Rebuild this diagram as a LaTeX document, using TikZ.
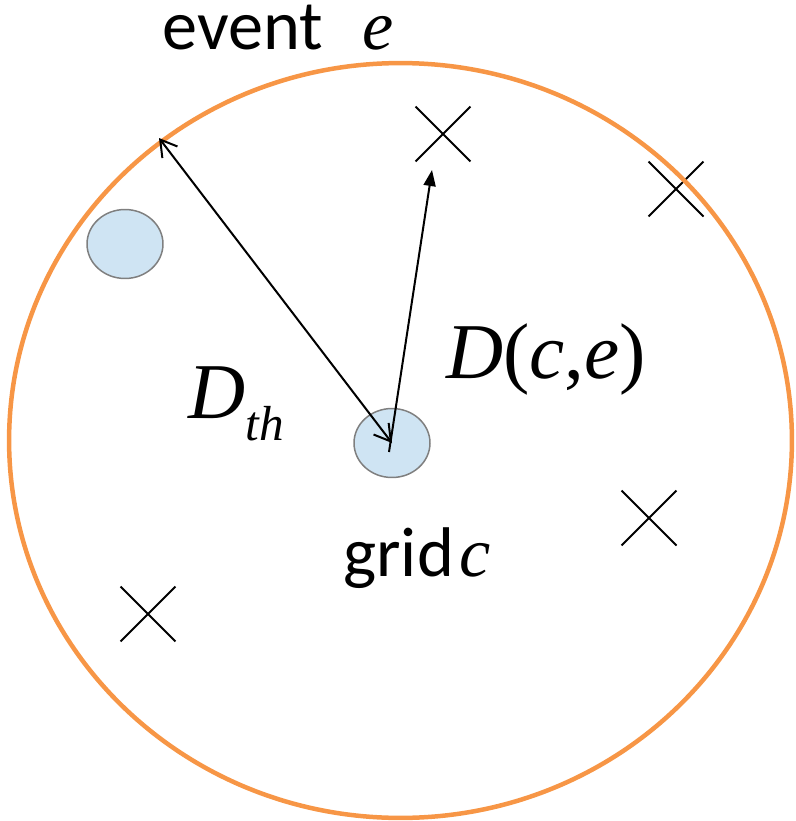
\documentclass[tikz,border=0pt]{standalone}
\usepackage{fontspec}
\setmainfont{Liberation Serif}
\newfontfamily\calibri{Carlito}
\usetikzlibrary{shapes.geometric,shapes.misc,arrows.meta,positioning}
\definecolor{eventorange}{HTML}{F79646}
\definecolor{gridblue}{HTML}{CFE4F3}
\definecolor{gridgray}{HTML}{7F7F7F}

\begin{document}
\begin{tikzpicture}[
    x=0.02cm, y=-0.02cm,
    eventring/.style={ellipse, draw=eventorange, line width=0.09cm, minimum width=15.66cm, minimum height=15.1cm, inner sep=0},
    gridcell/.style={ellipse, draw=gridgray, fill=gridblue, line width=0.03cm, minimum width=1.52cm, minimum height=1.38cm, inner sep=0},
    crossmark/.style={cross out, draw=black, line width=0.04cm, minimum size=1.06cm, inner sep=0},
    lbl/.style={anchor=base west, inner sep=0, text height=0.8cm, text depth=0.25cm, font=\fontsize{40}{44}\selectfont},
    mathlbl/.style={anchor=base west, inner sep=0, font=\fontsize{45}{48}\selectfont},
    radius arrow/.style={{Straight Barb[length=0.32cm, width=0.38cm]}-{Straight Barb[length=0.32cm, width=0.38cm]}, line width=0.04cm},
    dist arrow/.style={-{Triangle[length=0.32cm, width=0.24cm]}, line width=0.04cm}
]
    \useasboundingbox (0,0) rectangle (795,821);

    % events around the grid
    \node [crossmark] (x1) at (443,134) {};
    \node [crossmark] (x2) at (676,189) {};
    \node [crossmark] (x3) at (649,518) {};
    \node [crossmark] (x4) at (148,614) {};

    \node [eventring] (ring) at (400.5,440.5) {};

    \node [gridcell] (grid) at (392,443) {};
    \node [gridcell] (cell2) at (125,244) {};

    \coordinate (rim) at (159,138);
    \coordinate (tipe) at (432,170);
    \draw [radius arrow] (grid.center) -- (rim);
    \draw [dist arrow] ([shift={(-3,9)}]grid.center) -- (tipe);

    \node [lbl] (eventlbl) at (162,50) {{\calibri event}\hspace{0.8cm}\textit{e}};
    \node [lbl] (gridlbl) at (343,576) {{\calibri grid}\hspace{0.12cm}\textit{c}};
    \node [mathlbl] (dce) at (446,378) {\textit{D}(\textit{c},\textit{e})};
    \node [mathlbl] (dth) at (188,418) {\textit{D}\raisebox{-0.28em}{\fontsize{28}{30}\selectfont\textit{th}}};
\end{tikzpicture}
\end{document}
